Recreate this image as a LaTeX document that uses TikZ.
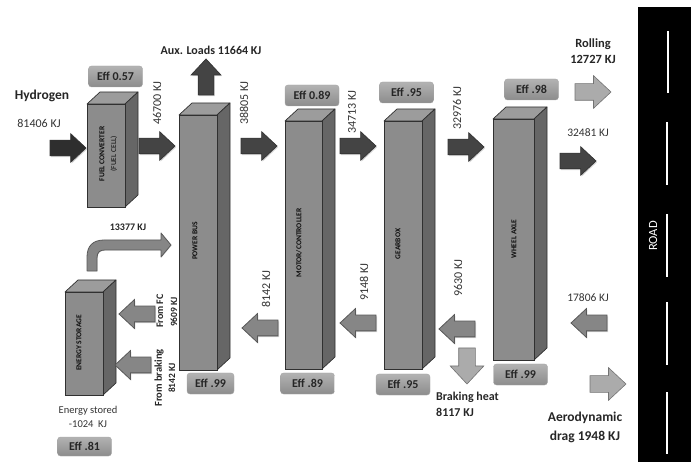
\documentclass[tikz,border=0pt]{standalone}
\usepackage{fontspec}
\setmainfont{Carlito}
\usetikzlibrary{shapes.arrows,shadows}
\definecolor{blockfront}{HTML}{8C8C8C}
\definecolor{blocktop}{HTML}{9C9C9C}
\definecolor{blockside}{HTML}{666666}
\definecolor{blockline}{HTML}{303030}
\definecolor{flowdark}{HTML}{444444}
\definecolor{flowmid}{HTML}{868686}
\definecolor{flowlight}{HTML}{ABABAB}

\begin{document}
\begin{tikzpicture}[
  x=1pt, y=-1pt,
  block/.style={draw=blockline, fill=blockfront, line width=0.7pt, inner sep=0pt, outer sep=0pt,
    append after command={\pgfextra{
      \draw[draw=blockline, fill=blocktop, line width=0.7pt, line join=round] (\tikzlastnode.north west) -- ++(13,-12) -- ++(\blockw,0) -- (\tikzlastnode.north east) -- cycle;
      \draw[draw=blockline, fill=blockside, line width=0.7pt, line join=round] (\tikzlastnode.north east) -- ++(13,-12) -- ++(0,\blockh) -- (\tikzlastnode.south east) -- cycle;
    }}},
  blocktext/.style={rotate=90, inner sep=0pt, text=black!95, font=\bfseries\fontsize{7.5}{9}\selectfont},
  effbox/.style={draw=black!35, rounded corners=3pt, top color=black!30, bottom color=black!45, minimum width=54pt, minimum height=21pt, inner sep=0pt, font=\bfseries\fontsize{12}{14}\selectfont, text=black!85},
  flowbase/.style={single arrow, anchor=tip, outer sep=0pt, inner sep=7.5pt, minimum height=36pt, single arrow head extend=6.5pt, single arrow tip angle=86},
  flowstrong/.style={flowbase, draw=black!80, fill=flowdark, line width=0.7pt, drop shadow={shadow xshift=1pt, shadow yshift=-1.2pt, opacity=0.35}},
  flowback/.style={flowbase, draw=black!65, fill=flowmid, line width=0.8pt, drop shadow={shadow xshift=1pt, shadow yshift=-1.2pt, opacity=0.35}},
  flowloss/.style={flowbase, inner sep=8pt, single arrow head extend=8pt, draw=black!55, fill=flowlight, line width=0.6pt},
  energy/.style={inner sep=0pt, text=black!80, font=\fontsize{12}{14}\selectfont},
  energysmall/.style={inner sep=0pt, text=black!80, align=center, font=\fontsize{11.5}{16}\selectfont},
  title/.style={inner sep=0pt, text=black!85, align=center, font=\bfseries\fontsize{12}{17}\selectfont}
]
  \useasboundingbox (0,0) rectangle (691,462);

  \fill[black] (638,7) rectangle (691,462);
  \foreach \yone/\ytwo/\xroad in {31/93/668, 122/185/667, 214/277/667, 302/365/667, 392/454/667}
    \draw[white, line width=2.4pt] (\xroad,\yone) -- (\xroad,\ytwo);
  \node (road) at (653,236) [rotate=90, text=white, inner sep=0pt, font=\fontsize{12.5}{14}\selectfont] {ROAD};

  \def\blockw{38} \def\blockh{103}
  \node (fuel) at (106,155.5) [block, minimum width=38pt, minimum height=103pt] {};
  \def\blockw{38} \def\blockh{255}
  \node (bus) at (198,242.5) [block, minimum width=38pt, minimum height=255pt] {};
  \def\blockw{37} \def\blockh{248}
  \node (motor) at (303.5,245) [block, minimum width=37pt, minimum height=248pt] {};
  \def\blockw{38} \def\blockh{248}
  \node (gear) at (403,245) [block, minimum width=38pt, minimum height=248pt] {};
  \def\blockw{41} \def\blockh{241}
  \node (wheel) at (513.5,239.5) [block, minimum width=41pt, minimum height=241pt] {};
  \def\blockw{38} \def\blockh{103}
  \node (storage) at (84,343.5) [block, minimum width=38pt, minimum height=103pt] {};

  \node (fuellabel) at (102,154) [blocktext] {FUEL CONVERTER};
  \node (celllabel) at (114,154) [blocktext, font=\fontsize{7.5}{9}\selectfont] {(FUEL CELL)};
  \node (buslabel) at (195,241) [blocktext] {POWER BUS};
  \node (motorlabel) at (299,243) [blocktext] {MOTOR/CONTROLLER};
  \node (gearlabel) at (398,244) [blocktext] {GEARBOX};
  \node (wheellabel) at (514,239) [blocktext] {WHEEL AXLE};
  \node (storagelabel) at (79,343) [blocktext] {ENERGY STORAGE};

  \node (efffuel) at (115.5,76.5) [effbox] {Eff 0.57};
  \node (effmotor) at (312,95.5) [effbox] {Eff 0.89};
  \node (effgear) at (406.5,92.5) [effbox] {Eff .95};
  \node (effwheel) at (531.5,89.5) [effbox] {Eff .98};
  \node (effbusb) at (210.5,383.5) [effbox, minimum width=47pt] {Eff .99};
  \node (effmotorb) at (307.5,383.5) [effbox] {Eff .89};
  \node (effgearb) at (403,384.5) [effbox] {Eff .95};
  \node (effwheelb) at (520.5,374.5) [effbox] {Eff .99};
  \node (effstorage) at (84.5,446.5) [effbox, minimum height=19pt] {Eff .81};

  \node (h2in) at (86,148) [flowstrong, fill=black!82] {};
  \node (fuelout) at (175,146) [flowstrong] {};
  \node (busout) at (277,146) [flowstrong] {};
  \node (motorout) at (376,146) [flowstrong] {};
  \node (gearout) at (484,147) [flowstrong] {};
  \node (wheelout) at (596,161) [flowstrong] {};
  \node (auxout) at (206,59) [flowstrong, rotate=90, single arrow head extend=7pt] {};

  \node (tofc) at (119,314) [flowback, rotate=180] {};
  \node (tobrake) at (115,365) [flowback, rotate=180] {};
  \node (busback) at (242,328) [flowback, rotate=180] {};
  \node (motorback) at (340,323) [flowback, rotate=180] {};
  \node (gearback) at (439,329) [flowback, rotate=180] {};
  \node (roadback) at (571,323) [flowback, rotate=180] {};

  \node (brakeheat) at (467,384) [flowloss, rotate=-90, single arrow head extend=8.5pt] {};
  \node (rolling) at (611,92) [flowloss] {};
  \node (aero) at (626,384) [flowloss] {};

  \draw[draw=black!65, fill=flowmid, line width=0.8pt, line join=round, drop shadow={shadow xshift=0.6pt, shadow yshift=-0.6pt, opacity=0.25}]
    (87,271) -- (87,257) .. controls (87,246) and (93,240) .. (104,240) -- (161,240) -- (161,233) -- (171,245)
    -- (161,257) -- (161,250) -- (105,250) .. controls (100,250) and (97,252) .. (97,258) -- (97,271) -- cycle;

  \node (hydrogen) at (42,96) [title, font=\bfseries\fontsize{13.5}{16}\selectfont] {Hydrogen};
  \node (h2energy) at (39,123) [energy] {81406 KJ};
  \node (auxloads) at (211,50) [title] {Aux. Loads 11664 KJ};
  \node (fuelenergy) at (157,103) [energy, rotate=90] {46700 KJ};
  \node (busenergy) at (244,103) [energy, rotate=90] {38805 KJ};
  \node (motorenergy) at (352,112) [energy, rotate=90] {34713 KJ};
  \node (gearenergy) at (457,108) [energy, rotate=90] {32976 KJ};
  \node (busbacktext) at (266,289) [energy, rotate=90] {8142 KJ};
  \node (motorbacktext) at (364,282) [energy, rotate=90] {9148 KJ};
  \node (gearbacktext) at (458,278) [energy, rotate=90] {9630 KJ};
  \node (fromfc) at (160,311) [title, rotate=90, font=\bfseries\fontsize{10}{12}\selectfont] {From FC};
  \node (fromfcval) at (174,312) [title, rotate=90, font=\bfseries\fontsize{9.5}{12}\selectfont] {9609 KJ};
  \node (frombrake) at (159,378) [title, rotate=90, font=\bfseries\fontsize{10.5}{12}\selectfont] {From braking};
  \node (frombrakeval) at (172,378) [title, rotate=90, font=\bfseries\fontsize{9.5}{12}\selectfont] {8142 KJ};
  \node (returnval) at (128,227) [title, font=\bfseries\fontsize{10}{12}\selectfont] {13377 KJ};
  \node (stored) at (88,417) [energysmall, font=\fontsize{10.5}{14}\selectfont] {Energy stored\\-1024\ \ KJ};
  \node (heat) at (436,404) [title, anchor=west, align=left, font=\bfseries\fontsize{12}{16}\selectfont] {Braking heat\\8117 KJ};
  \node (rollingval) at (593,51) [title, font=\bfseries\fontsize{12.5}{16}\selectfont] {Rolling\\12727 KJ};
  \node (wheelval) at (588,133) [energysmall] {32481 KJ};
  \node (roadval) at (588,298) [energysmall] {17806 KJ};
  \node (aeroval) at (585,427.5) [title, font=\bfseries\fontsize{13.5}{19}\selectfont] {Aerodynamic\\drag 1948 KJ};
\end{tikzpicture}
\end{document}
